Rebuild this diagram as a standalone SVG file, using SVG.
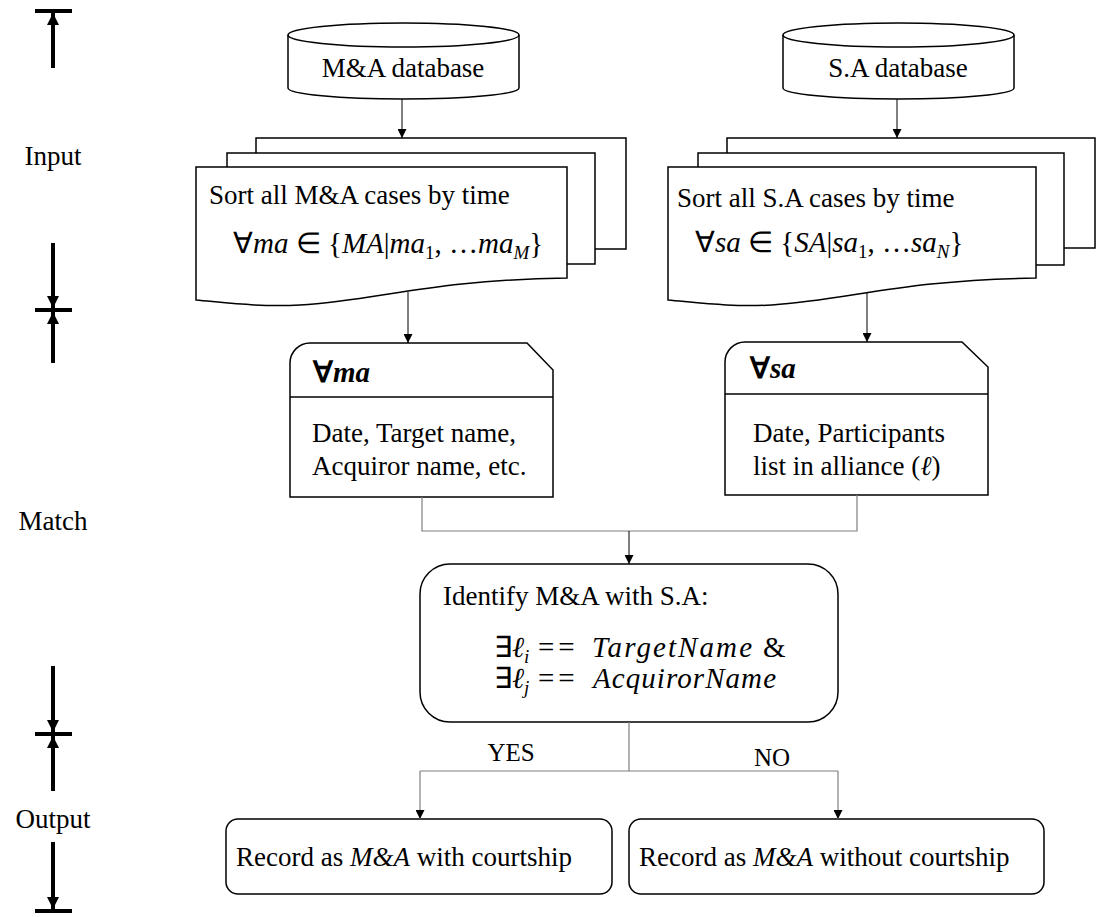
<svg xmlns="http://www.w3.org/2000/svg" width="1097" height="917" viewBox="0 0 1097 917" font-family="Liberation Serif, Times New Roman, serif">
  <defs>
    <marker id="tip" viewBox="0 0 10 10" refX="10" refY="5" markerWidth="9" markerHeight="9" markerUnits="userSpaceOnUse" orient="auto">
      <path d="M0,0 L10,5 L0,10 Z" fill="#000"/>
    </marker>
    <marker id="bigtip" viewBox="0 0 10 10" refX="10" refY="5" markerWidth="12" markerHeight="12" markerUnits="userSpaceOnUse" orient="auto">
      <path d="M0,0 L10,5 L0,10 Z" fill="#000"/>
    </marker>
    <style>
      .shape { fill: #fff; stroke: #000; stroke-width: 1.5; }
      .line { fill: none; stroke: #000; stroke-width: 1; }
      .grey { fill: none; stroke: #7f7f7f; stroke-width: 1.2; }
      .t { font-size: 27px; fill: #000; }
      .m { font-size: 29px; font-style: italic; fill: #000; }
      .up { font-style: normal; }
      .sub { font-size: 19px; }
      .eq { font-style: normal; letter-spacing: 4px; }
      .bar { stroke: #000; stroke-width: 4; }
      .shaft { stroke: #000; stroke-width: 4; fill: none; }
      .yn { font-size: 25px; fill: #000; }
    </style>
  </defs>

  <!-- stage scale on the left -->
  <g id="stages">
    <line class="bar" x1="35" y1="11" x2="72" y2="11"/>
    <line class="shaft" x1="53" y1="68" x2="53" y2="13" marker-end="url(#bigtip)"/>
    <text class="t" x="53" y="165" text-anchor="middle">Input</text>
    <line class="shaft" x1="53" y1="243" x2="53" y2="308" marker-end="url(#bigtip)"/>
    <line class="bar" x1="35" y1="310" x2="72" y2="310"/>
    <line class="shaft" x1="53" y1="363" x2="53" y2="312" marker-end="url(#bigtip)"/>
    <text class="t" x="53" y="530" text-anchor="middle">Match</text>
    <line class="shaft" x1="53" y1="666" x2="53" y2="732" marker-end="url(#bigtip)"/>
    <line class="bar" x1="35" y1="734" x2="72" y2="734"/>
    <line class="shaft" x1="53" y1="791" x2="53" y2="736" marker-end="url(#bigtip)"/>
    <text class="t" x="53" y="828" text-anchor="middle">Output</text>
    <line class="shaft" x1="53" y1="842" x2="53" y2="909" marker-end="url(#bigtip)"/>
    <line class="bar" x1="35" y1="911" x2="72" y2="911"/>
  </g>

  <!-- databases -->
  <g id="ma-db">
    <path class="shape" d="M288,35 A115.5,12 0 0,1 519,35 V88 A115.5,11 0 0,1 288,88 Z"/>
    <path class="line" style="stroke-width:1.5" d="M288,35 A115.5,12 0 0,0 519,35"/>
    <text class="t" x="403" y="77" text-anchor="middle">M&amp;A database</text>
  </g>
  <g id="sa-db">
    <path class="shape" d="M783,35 A115.5,12 0 0,1 1014,35 V88 A115.5,11 0 0,1 783,88 Z"/>
    <path class="line" style="stroke-width:1.5" d="M783,35 A115.5,12 0 0,0 1014,35"/>
    <text class="t" x="898" y="77" text-anchor="middle">S.A database</text>
  </g>

  <!-- sorted case stacks -->
  <g id="ma-sort">
    <rect class="shape" x="256" y="138" width="370" height="111"/>
    <rect class="shape" x="227" y="153" width="368" height="111"/>
    <path class="shape" d="M196,167 H567 V278 C430,280 380,300 300,305 C260,307 230,303 196,300 Z"/>
    <text class="t" x="209" y="204">Sort all M&amp;A cases by time</text>
    <text class="m" x="233" y="253"><tspan class="up">∀</tspan>ma <tspan class="up">∈ {</tspan>MA<tspan class="up">|</tspan>ma<tspan class="sub up" dy="6">1</tspan><tspan class="up" dy="-6">, …</tspan>ma<tspan class="sub" dy="6">M</tspan><tspan class="up" dy="-6">}</tspan></text>
  </g>
  <g id="sa-sort">
    <rect class="shape" x="727" y="138" width="368" height="110"/>
    <rect class="shape" x="698" y="153" width="366" height="112"/>
    <path class="shape" d="M668,167 H1036 V278 C900,280 850,300 772,305 C732,307 702,303 668,300 Z"/>
    <text class="t" x="677" y="207">Sort all S.A cases by time</text>
    <text class="m" x="695" y="252"><tspan class="up">∀</tspan>sa <tspan class="up">∈ {</tspan>SA<tspan class="up">|</tspan>sa<tspan class="sub up" dy="6">1</tspan><tspan class="up" dy="-6">, …</tspan>sa<tspan class="sub" dy="6">N</tspan><tspan class="up" dy="-6">}</tspan></text>
  </g>

  <!-- record cards -->
  <g id="ma-card">
    <path class="shape" d="M290,363 A20,20 0 0,1 310,343 H527 L553,370 V497 H290 Z"/>
    <line class="line" style="stroke-width:1.5" x1="290" y1="397" x2="553" y2="397"/>
    <text class="m" x="313" y="382" font-weight="bold"><tspan class="up">∀</tspan>ma</text>
    <text class="t" x="312" y="442">Date, Target name,</text>
    <text class="t" x="312" y="475">Acquiror name, etc.</text>
  </g>
  <g id="sa-card">
    <path class="shape" d="M725,362 A20,20 0 0,1 745,342 H962 L988,367 V495 H725 Z"/>
    <line class="line" style="stroke-width:1.5" x1="725" y1="394" x2="988" y2="394"/>
    <text class="m" x="750" y="378" font-weight="bold"><tspan class="up">∀</tspan>sa</text>
    <text class="t" x="753" y="442">Date, Participants</text>
    <text class="t" x="753" y="475">list in alliance (<tspan font-style="italic">ℓ</tspan>)</text>
  </g>

  <!-- matching decision -->
  <g id="identify">
    <rect class="shape" x="420" y="564" width="418" height="158" rx="30" ry="30"/>
    <text class="t" x="443" y="605">Identify M&amp;A with S.A:</text>
    <text class="m" y="657"><tspan class="up" x="494">∃</tspan><tspan x="512">ℓ</tspan><tspan class="sub" dy="6">i</tspan><tspan class="eq" x="538" dy="-6">==</tspan><tspan x="592" textLength="160" lengthAdjust="spacing">TargetName</tspan><tspan class="up" x="763">&amp;</tspan></text>
    <text class="m" y="688"><tspan class="up" x="494">∃</tspan><tspan x="512">ℓ</tspan><tspan class="sub" dy="6">j</tspan><tspan class="eq" x="538" dy="-6">==</tspan><tspan x="593" textLength="183" lengthAdjust="spacing">AcquirorName</tspan></text>
  </g>

  <!-- outcomes -->
  <g id="with-courtship">
    <rect class="shape" x="226" y="819" width="386" height="75" rx="12" ry="12"/>
    <text class="t" x="236" y="866">Record as <tspan font-style="italic">M&amp;A</tspan> with courtship</text>
  </g>
  <g id="without-courtship">
    <rect class="shape" x="629" y="819" width="415" height="75" rx="12" ry="12"/>
    <text class="t" x="639" y="866">Record as <tspan font-style="italic">M&amp;A</tspan> without courtship</text>
  </g>

  <!-- connectors -->
  <g id="connectors">
    <line class="line" x1="402" y1="99" x2="402" y2="138" marker-end="url(#tip)"/>
    <line class="line" x1="897" y1="99" x2="897" y2="138" marker-end="url(#tip)"/>
    <line class="line" x1="408" y1="292" x2="408" y2="343" marker-end="url(#tip)"/>
    <line class="line" x1="867" y1="292" x2="867" y2="342" marker-end="url(#tip)"/>
    <path class="grey" d="M422,497 V531 H857 V495"/>
    <line class="line" x1="629" y1="531" x2="629" y2="564" marker-end="url(#tip)"/>
    <path class="grey" d="M629,722 V771"/>
    <path class="grey" d="M420,771 H838"/>
    <line class="grey" x1="420" y1="771" x2="420" y2="819" marker-end="url(#tip)"/>
    <line class="grey" x1="838" y1="771" x2="838" y2="819" marker-end="url(#tip)"/>
    <text class="yn" x="511" y="761" text-anchor="middle">YES</text>
    <text class="yn" x="772" y="766" text-anchor="middle">NO</text>
  </g>
</svg>
